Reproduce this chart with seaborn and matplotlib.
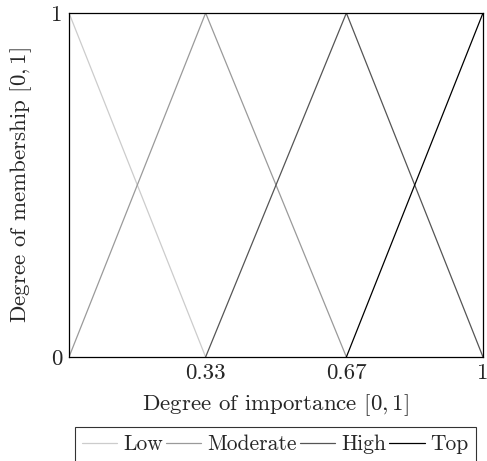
import matplotlib
matplotlib.use("Agg")
import matplotlib.pyplot as plt
import seaborn as sns
import pandas as pd

sns.set_theme(style="white")
plt.rcParams['font.family'] = ['cmr10', 'DejaVu Serif']
plt.rcParams['mathtext.fontset'] = 'cm'
plt.rcParams['axes.formatter.use_mathtext'] = True

series = ["Low", "Moderate", "High", "Top"]
low_x = [0, 0.33]
low_y = [1, 0]
mod_x = [0, 0.33, 0.67]
mod_y = [0, 1, 0]
high_x = [0.33, 0.67, 1]
high_y = [0, 1, 0]
top_x = [0.67, 1]
top_y = [0, 1]
xticks = [0.33, 0.67, 1]
xtick_labels = ["0.33", "0.67", "1"]
yticks = [0, 1]
ytick_labels = ["0", "1"]

rows = []
for name, xs, ys in zip(series, [low_x, mod_x, high_x, top_x], [low_y, mod_y, high_y, top_y]):
    for i, (x, y) in enumerate(zip(xs, ys)):
        rows.append({"series": name, "x": x, "y": y, "order": i})
df = pd.DataFrame(rows)

colors = {"Low": "#cccccc", "Moderate": "#9a9a9a", "High": "#555555", "Top": "#000000"}

fig = plt.figure(figsize=(4.87, 4.61), dpi=100)
ax = fig.add_axes([0.1417, 0.2256, 0.8501, 0.7462])
sns.lineplot(data=df, x="x", y="y", hue="series", palette=colors, sort=False,
             units="series", estimator=None, ax=ax, linewidth=0.9, legend=True)

FS = 16.5
ax.set_xlim(0, 1)
ax.set_ylim(0, 1)
ax.set_xticks(xticks)
ax.set_xticklabels(xtick_labels, fontsize=FS)
ax.set_yticks(yticks)
ax.set_yticklabels(ytick_labels, fontsize=FS)
ax.tick_params(length=0, pad=5)
ax.set_xlabel(r"Degree of importance $[0,1]$", fontsize=FS, labelpad=6)
ax.set_ylabel(r"Degree of membership $[0,1]$", fontsize=FS, labelpad=12)
for s in ax.spines.values():
    s.set_color("black")
    s.set_linewidth(0.9)

handles, labels = ax.get_legend_handles_labels()
leg = ax.legend(handles, labels, loc="upper center", bbox_to_anchor=(0.5657, 1 - 427 / 461),
                bbox_transform=fig.transFigure,
                ncol=4, frameon=True, fancybox=False, fontsize=15.5,
                handlelength=1.63, handletextpad=0.28, columnspacing=0.15,
                borderpad=0.35, borderaxespad=0)
leg.get_frame().set_edgecolor("black")
leg.get_frame().set_linewidth(0.8)

fig.savefig("out.png", dpi=100)
